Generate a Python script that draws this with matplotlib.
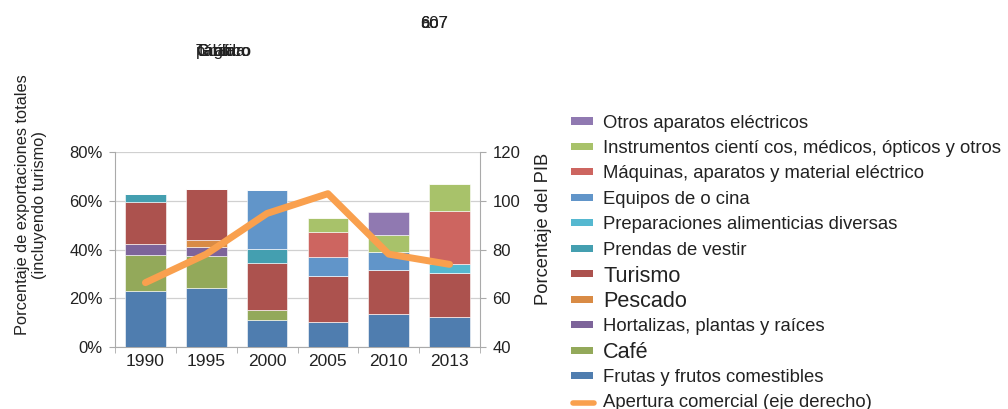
import matplotlib
matplotlib.use("Agg")
import matplotlib.pyplot as plt
import numpy as np
from matplotlib.patches import Rectangle
from matplotlib.lines import Line2D

plt.rcParams['font.family'] = ['Liberation Sans', 'DejaVu Sans']

years = ['1990', '1995', '2000', '2005', '2010', '2013']

# stacked segments (percent of total exports), bottom to top
frutas        = [22.8, 24.4, 10.9, 10.2, 13.5, 12.3]
cafe          = [14.9, 13.1, 4.4, 0.0, 0.0, 0.0]
hortalizas    = [4.4, 3.6, 0.0, 0.0, 0.0, 0.0]
pescado       = [0.0, 3.0, 0.0, 0.0, 0.0, 0.0]
turismo       = [17.4, 20.9, 19.3, 19.1, 18.1, 18.2]
prendas       = [3.4, 0.0, 5.5, 0.0, 0.0, 0.0]
preparaciones = [0.0, 0.0, 0.0, 0.0, 0.0, 3.4]
equipos       = [0.0, 0.0, 24.2, 7.8, 7.4, 0.0]
maquinas      = [0.0, 0.0, 0.0, 9.9, 0.0, 22.0]
instrumentos  = [0.0, 0.0, 0.0, 6.0, 6.9, 11.1]
otros         = [0.0, 0.0, 0.0, 0.0, 9.5, 0.0]

apertura = [66.4, 78.1, 94.8, 102.9, 78.1, 73.9]

series = [
    ('Frutas y frutos comestibles', frutas, '#4F7DAF', 13.3),
    ('Café', cafe, '#93A95A', 15.6),
    ('Hortalizas, plantas y raíces', hortalizas, '#7D649A', 13.3),
    ('Pescado', pescado, '#D98B45', 15.6),
    ('Turismo', turismo, '#AC524E', 15.6),
    ('Prendas de vestir', prendas, '#449FB0', 13.3),
    ('Preparaciones alimenticias diversas', preparaciones, '#55B8D0', 13.3),
    ('Equipos de o cina', equipos, '#6195C9', 13.3),
    ('Máquinas, aparatos y material eléctrico', maquinas, '#CD6560', 13.3),
    ('Instrumentos cientí cos, médicos, ópticos y otros', instrumentos, '#A8C26A', 13.3),
    ('Otros aparatos eléctricos', otros, '#9079B1', 13.3),
]
line_label = 'Apertura comercial (eje derecho)'
line_color = '#F9A04E'

W, H = 1008, 409
txt = '#222222'
fig = plt.figure(figsize=(W / 100, H / 100), dpi=100)
ax = fig.add_axes([115 / W, 1 - 347 / H, 365 / W, 195 / H])

x = np.arange(len(years))
bottom = np.zeros(len(years))
for name, vals, col, fs in series:
    v = np.array(vals)
    ax.bar(x, v, 0.67, bottom=bottom, color=col, edgecolor='white', linewidth=0.4, zorder=3)
    bottom += v

ax.set_xlim(-0.5, len(years) - 0.5)
ax.set_ylim(0, 80)
ax.set_yticks([0, 20, 40, 60, 80])
ax.set_yticklabels(['0%', '20%', '40%', '60%', '80%'])
ax.set_xticks(x)
ax.set_xticklabels(years)
ax.set_xticks(np.arange(-0.5, len(years), 1.0), minor=True)
ax.tick_params(axis='x', which='major', length=0, labelsize=12.5, colors=txt, pad=5)
ax.tick_params(axis='x', which='minor', length=4, color='#AAAAAA', direction='out')
ax.tick_params(axis='y', length=4, color='#AAAAAA', labelsize=12, labelcolor=txt, pad=5)
ax.grid(axis='y', color='#D0D0D0', linewidth=0.9, zorder=0)
for s in ['left', 'bottom']:
    ax.spines[s].set_color('#AAAAAA')
ax.spines['top'].set_visible(False)
ax.spines['right'].set_visible(False)

ax2 = ax.twinx()
ax2.plot(x, apertura, color=line_color, linewidth=5, solid_capstyle='round', zorder=5)
ax2.set_ylim(40, 120)
ax2.set_yticks([40, 60, 80, 100, 120])
ax2.tick_params(axis='y', length=4, color='#AAAAAA', labelsize=12, labelcolor=txt, pad=5)
for s in ['left', 'top', 'bottom']:
    ax2.spines[s].set_visible(False)
ax2.spines['right'].set_color('#AAAAAA')

# axis titles
fig.text(31 / W, 1 - 205 / H, 'Porcentaje de exportaciones totales\n(incluyendo turismo)',
         rotation=90, ha='center', va='center', multialignment='center',
         fontsize=11.8, color=txt, linespacing=1.15)
fig.text(544 / W, 1 - 229 / H, 'Porcentaje del PIB', rotation=90, ha='center', va='center',
         fontsize=13.2, color=txt)

# legend (reverse order), placed row by row
entries = [(name, col, fs) for name, vals, col, fs in reversed(series)]
y0, dy = 121, 25.45
for i, (name, col, fs) in enumerate(entries):
    yc = y0 + i * dy
    fig.patches.append(Rectangle((571 / W, 1 - (yc + 3.5) / H), 22 / W, 7 / H,
                                 transform=fig.transFigure, facecolor=col, edgecolor='none'))
    fig.text(603 / W, 1 - yc / H, name, fontsize=fs, color=txt, ha='left', va='center_baseline')
yc = y0 + len(entries) * dy
fig.lines.append(Line2D([573 / W, 594 / W], [1 - (yc + 2) / H, 1 - (yc + 2) / H],
                        transform=fig.transFigure, color=line_color, linewidth=4,
                        solid_capstyle='round'))
fig.text(603 / W, 1 - yc / H, line_label, fontsize=13.3, color=txt, ha='left', va='center_baseline')

# overlapping header artifacts
for s in ['607', 'ao7', '6o']:
    fig.text(420 / W, 1 - 28 / H, s, fontsize=12, color='#222222', ha='left', va='baseline')
for s in ['Gráfico', 'página', 'Cuadro', 'Tabla']:
    fig.text(196 / W, 1 - 56 / H, s, fontsize=12, color='#222222', ha='left', va='baseline')

fig.savefig('out.png', dpi=100)
